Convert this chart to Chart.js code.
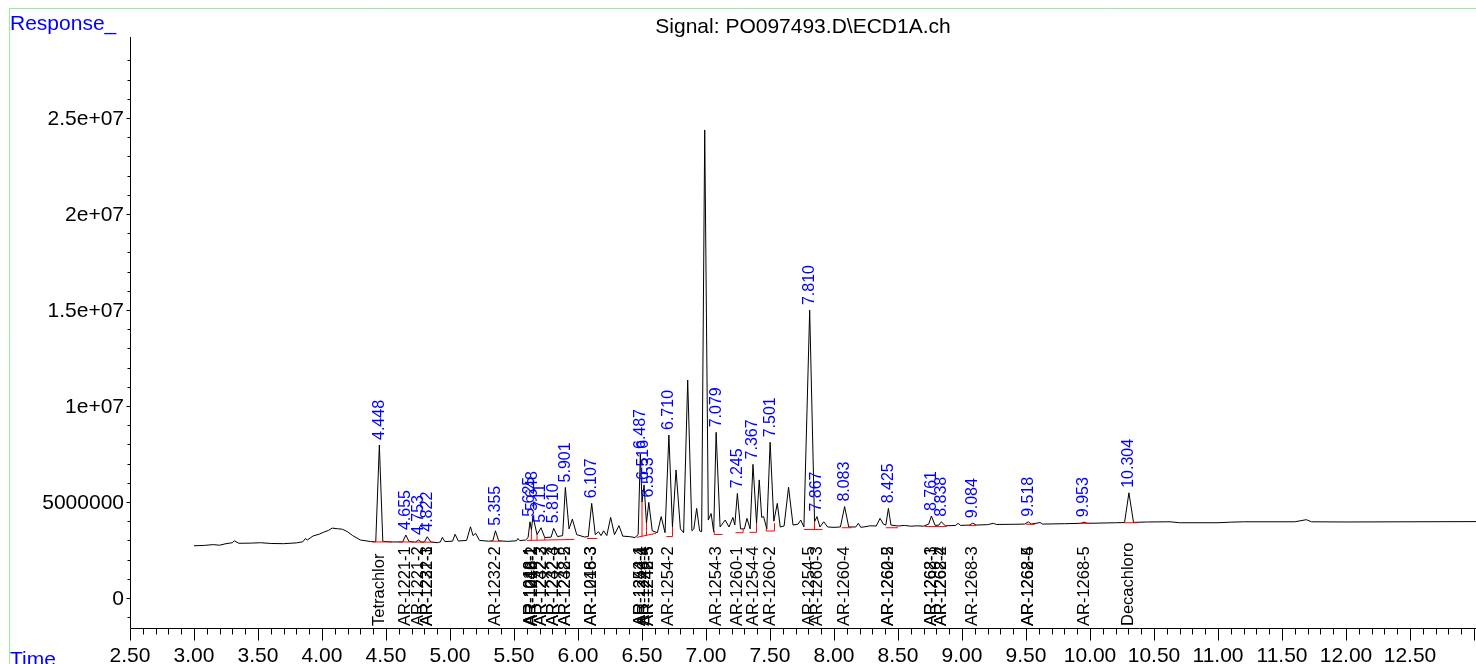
<!DOCTYPE html>
<html>
<head>
<meta charset="utf-8">
<script src="https://cdn.jsdelivr.net/npm/chart.js@4/dist/chart.umd.min.js"></script>
<style>
  html, body { margin: 0; padding: 0; background: #ffffff; }
  #wrap { width: 1476px; height: 664px; position: relative; }
</style>
</head>
<body>
<div id="wrap"><canvas id="c" width="1476" height="664"></canvas></div>
<script>
// ECD signal trace: retention time (min) and detector response
const traceTimes = [
  3.00, 3.08, 3.15, 3.20, 3.25, 3.30, 3.315, 3.35, 3.45, 3.52, 3.60, 3.70, 3.80, 3.85, 3.87, 3.885,
  3.93, 3.98, 4.01, 4.05, 4.08, 4.12, 4.16, 4.20, 4.24, 4.30, 4.38, 4.42, 4.448, 4.475, 4.55, 4.63,
  4.655, 4.68, 4.73, 4.753, 4.78, 4.80, 4.822, 4.85, 4.90, 4.925, 4.94, 4.96, 5.02, 5.04, 5.065, 5.13,
  5.16, 5.18, 5.20, 5.23, 5.30, 5.335, 5.355, 5.38, 5.45, 5.52, 5.53, 5.545, 5.59, 5.61, 5.625, 5.636,
  5.648, 5.68, 5.711, 5.74, 5.79, 5.810, 5.84, 5.88, 5.901, 5.93, 5.956, 5.99, 6.05, 6.08, 6.107, 6.135,
  6.16, 6.18, 6.20, 6.225, 6.255, 6.285, 6.32, 6.35, 6.40, 6.445, 6.47, 6.487, 6.50, 6.516, 6.535, 6.553,
  6.58, 6.62, 6.65, 6.68, 6.710, 6.738, 6.766, 6.80, 6.825, 6.857, 6.89, 6.905, 6.927, 6.95, 6.966, 6.99,
  7.018, 7.04, 7.06, 7.079, 7.11, 7.15, 7.18, 7.21, 7.225, 7.245, 7.27, 7.30, 7.32, 7.345, 7.367, 7.395,
  7.416, 7.435, 7.45, 7.475, 7.501, 7.53, 7.557, 7.58, 7.61, 7.645, 7.68, 7.72, 7.74, 7.765, 7.810, 7.848,
  7.867, 7.89, 7.92, 7.95, 8.00, 8.05, 8.083, 8.115, 8.17, 8.19, 8.21, 8.25, 8.28, 8.33, 8.36, 8.385,
  8.405, 8.425, 8.445, 8.50, 8.55, 8.60, 8.65, 8.70, 8.74, 8.761, 8.79, 8.82, 8.838, 8.87, 8.95, 8.97,
  8.99, 9.06, 9.084, 9.11, 9.20, 9.245, 9.27, 9.40, 9.49, 9.518, 9.54, 9.61, 9.63, 9.80, 9.93, 9.953,
  9.98, 10.20, 10.27, 10.304, 10.34, 10.45, 10.625, 10.70, 11.00, 11.10, 11.20, 11.60, 11.69, 11.73, 12.00, 12.50,
  13.02
];
const traceResponses = [
  2.72e6, 2.74e6, 2.78e6, 2.75e6, 2.83e6, 2.88e6, 2.98e6, 2.85e6, 2.86e6, 2.88e6, 2.84e6, 2.83e6, 2.87e6, 2.93e6, 3.10e6, 3.02e6,
  3.23e6, 3.33e6, 3.42e6, 3.52e6, 3.64e6, 3.61e6, 3.58e6, 3.45e6, 3.25e6, 3.02e6, 2.94e6, 2.93e6, 7.97e6, 2.95e6, 2.92e6, 2.92e6,
  3.28e6, 2.94e6, 2.91e6, 3.02e6, 2.91e6, 2.92e6, 3.19e6, 2.92e6, 2.88e6, 2.92e6, 3.16e6, 2.94e6, 2.96e6, 3.32e6, 2.97e6, 3.00e6,
  3.71e6, 3.25e6, 3.37e6, 3.00e6, 2.96e6, 2.98e6, 3.50e6, 2.98e6, 2.95e6, 2.98e6, 3.10e6, 2.99e6, 3.02e6, 3.15e6, 3.97e6, 3.55e6,
  4.27e6, 3.30e6, 3.66e6, 3.15e6, 3.17e6, 3.63e6, 3.20e6, 3.25e6, 5.76e6, 3.60e6, 4.11e6, 3.30e6, 3.18e6, 3.20e6, 4.93e6, 3.30e6,
  3.45e6, 3.25e6, 3.50e6, 3.25e6, 4.20e6, 3.30e6, 3.77e6, 3.22e6, 3.20e6, 3.15e6, 3.30e6, 7.50e6, 5.00e6, 5.89e6, 3.90e6, 4.98e6,
  3.50e6, 3.40e6, 4.24e6, 3.40e6, 8.49e6, 3.70e6, 6.67e6, 3.60e6, 3.40e6, 11.35e6, 3.50e6, 3.60e6, 4.67e6, 3.50e6, 3.45e6, 24.38e6,
  4.06e6, 4.40e6, 3.45e6, 8.63e6, 3.70e6, 4.06e6, 3.70e6, 4.20e6, 3.80e6, 5.45e6, 3.60e6, 3.60e6, 4.15e6, 3.60e6, 6.96e6, 3.90e6,
  6.15e6, 4.20e6, 4.24e6, 3.60e6, 8.11e6, 4.00e6, 4.93e6, 3.70e6, 3.75e6, 5.77e6, 3.80e6, 3.85e6, 4.06e6, 3.70e6, 15.00e6, 3.97e6,
  4.24e6, 3.70e6, 3.97e6, 3.70e6, 3.68e6, 3.70e6, 4.76e6, 3.70e6, 3.70e6, 3.89e6, 3.68e6, 3.72e6, 3.76e6, 3.75e6, 4.15e6, 3.85e6,
  3.80e6, 4.67e6, 3.80e6, 3.75e6, 3.78e6, 3.74e6, 3.76e6, 3.74e6, 3.85e6, 4.27e6, 3.78e6, 3.80e6, 3.97e6, 3.76e6, 3.78e6, 3.89e6,
  3.78e6, 3.80e6, 3.90e6, 3.80e6, 3.82e6, 3.89e6, 3.83e6, 3.84e6, 3.85e6, 3.97e6, 3.85e6, 3.93e6, 3.85e6, 3.87e6, 3.89e6, 3.95e6,
  3.89e6, 3.92e6, 3.93e6, 5.48e6, 3.94e6, 3.96e6, 3.97e6, 3.92e6, 3.92e6, 3.95e6, 3.97e6, 3.97e6, 4.08e6, 3.97e6, 3.96e6, 3.97e6,
  3.98e6
];

// Integrated peaks (retention times printed above the apex)
const peakTimeLabels = [
  '4.448', '4.655', '4.753', '4.822', '5.355', '5.625', '5.648', '5.711', '5.810', '5.901',
  '6.107', '6.487', '6.516', '6.553', '6.710', '7.079', '7.245', '7.367', '7.501', '7.810',
  '7.867', '8.083', '8.425', '8.761', '8.838', '9.084', '9.518', '9.953', '10.304'
];

// Compound identifications printed under the trace
const compoundNames = [
  'Tetrachlor', 'AR-1221-1', 'AR-1221-2', 'AR-1221-3', 'AR-1232-1', 'AR-1232-2',
  'AR-1016-1', 'AR-1242-1', 'AR-1248-1', 'AR-1016-2', 'AR-1232-3', 'AR-1242-2',
  'AR-1232-4', 'AR-1242-3', 'AR-1232-5', 'AR-1248-2', 'AR-1016-3', 'AR-1248-3',
  'AR-1254-1', 'AR-1242-4', 'AR-1248-4', 'AR-1242-5', 'AR-1248-5', 'AR-1254-2',
  'AR-1254-3', 'AR-1260-1', 'AR-1254-4', 'AR-1260-2', 'AR-1254-5', 'AR-1260-3',
  'AR-1260-4', 'AR-1260-5', 'AR-1262-2', 'AR-1268-1', 'AR-1262-3', 'AR-1268-2',
  'AR-1262-4', 'AR-1268-3', 'AR-1268-4', 'AR-1262-5', 'AR-1268-5', 'Decachloro'
];
const compoundTimes = [
  4.448, 4.655, 4.753, 4.822, 4.822, 5.355,
  5.625, 5.625, 5.648, 5.648, 5.711, 5.711,
  5.810, 5.810, 5.901, 5.901, 6.107, 6.107,
  6.487, 6.487, 6.516, 6.553, 6.553, 6.710,
  7.079, 7.245, 7.367, 7.501, 7.810, 7.867,
  8.083, 8.425, 8.425, 8.761, 8.761, 8.838,
  8.838, 9.084, 9.518, 9.518, 9.953, 10.304
];

// Integration baselines (start, end, level at start, level at end)
const baseStartTimes = [4.39, 4.60, 4.73, 5.32, 5.60, 6.07, 6.46, 6.69, 7.064, 7.23, 7.34, 7.47, 7.765, 8.06, 8.405, 8.71, 9.05, 9.50, 9.91, 10.27];
const baseEndTimes   = [4.55, 4.72, 4.87, 5.40, 5.97, 6.15, 6.61, 6.738, 7.13, 7.29, 7.395, 7.535, 7.91, 8.137, 8.50, 8.88, 9.11, 9.57, 10.0, 10.38];
const baseStartLevels = [2.92e6, 2.92e6, 2.91e6, 2.96e6, 3.00e6, 3.10e6, 3.16e6, 3.20e6, 3.31e6, 3.40e6, 3.42e6, 3.49e6, 3.57e6, 3.66e6, 3.66e6, 3.72e6, 3.77e6, 3.84e6, 3.89e6, 3.92e6];
const baseEndLevels   = [2.92e6, 2.92e6, 2.91e6, 2.96e6, 3.05e6, 3.10e6, 3.37e6, 3.20e6, 3.31e6, 3.40e6, 3.42e6, 3.49e6, 3.57e6, 3.66e6, 3.66e6, 3.72e6, 3.77e6, 3.84e6, 3.89e6, 3.92e6];

// Drop lines separating unresolved peaks
const dropTimes   = [5.636, 5.68, 5.74, 6.50, 6.535, 6.738, 7.064, 7.29, 7.395, 7.47, 7.535, 7.848];
const dropBottoms = [3.01e6, 3.01e6, 3.02e6, 3.21e6, 3.27e6, 3.20e6, 3.31e6, 3.40e6, 3.42e6, 3.49e6, 3.49e6, 3.57e6];
const dropTops    = [3.55e6, 3.30e6, 3.15e6, 5.00e6, 3.90e6, 3.70e6, 3.50e6, 3.60e6, 3.90e6, 3.60e6, 3.90e6, 3.97e6];

// Axis ticks
const xTickValues = [2.5, 3.0, 3.5, 4.0, 4.5, 5.0, 5.5, 6.0, 6.5, 7.0, 7.5, 8.0, 8.5, 9.0, 9.5, 10.0, 10.5, 11.0, 11.5, 12.0, 12.5];
const xTickLabels = ['2.50', '3.00', '3.50', '4.00', '4.50', '5.00', '5.50', '6.00', '6.50', '7.00', '7.50', '8.00', '8.50', '9.00', '9.50', '10.00', '10.50', '11.00', '11.50', '12.00', '12.50'];
const yTickValues = [0, 5e6, 1e7, 1.5e7, 2e7, 2.5e7];
const yTickLabels = ['0', '5000000', '1e+07', '1.5e+07', '2e+07', '2.5e+07'];

const titleText = 'Signal: PO097493.D\\ECD1A.ch';
const FONT = '"Liberation Sans", Arial, Helvetica, sans-serif';

// Build datasets
const tracePoints = traceTimes.map((t, i) => ({ x: t, y: traceResponses[i] }));
const redPoints = [];
baseStartTimes.forEach((t0, i) => {
  redPoints.push({ x: t0, y: baseStartLevels[i] });
  redPoints.push({ x: baseEndTimes[i], y: baseEndLevels[i] });
  redPoints.push({ x: baseEndTimes[i], y: null });
});
dropTimes.forEach((t, i) => {
  redPoints.push({ x: t, y: dropBottoms[i] });
  redPoints.push({ x: t, y: dropTops[i] });
  redPoints.push({ x: t, y: null });
});

const decorations = {
  id: 'decorations',
  afterDraw(chart) {
    const ctx = chart.ctx;
    const xs = chart.scales.x, ys = chart.scales.y;
    const area = chart.chartArea;
    ctx.save();

    // outer frame
    ctx.strokeStyle = '#94ee94';
    ctx.lineWidth = 1;
    ctx.beginPath();
    ctx.moveTo(9.5, 664);
    ctx.lineTo(9.5, 8.5);
    ctx.lineTo(1476, 8.5);
    ctx.stroke();

    // axes
    const ax = Math.round(xs.getPixelForValue(2.5)) + 0.5;
    const ay = Math.round(ys.getPixelForValue(ys.min)) + 0.5;
    ctx.strokeStyle = '#000';
    ctx.beginPath();
    ctx.moveTo(ax, 37);
    ctx.lineTo(ax, ay);
    ctx.lineTo(area.right, ay);
    ctx.stroke();

    // y ticks: minor every 1e6, labelled every 5e6
    ctx.beginPath();
    for (let v = -1e6; v <= 28e6; v += 1e6) {
      const py = Math.round(ys.getPixelForValue(v)) + 0.5;
      const major = yTickValues.includes(v);
      ctx.moveTo(ax - (major ? 4 : 3), py);
      ctx.lineTo(ax, py);
    }
    // x ticks: minor every 0.1 min, major every 0.5 min
    for (let k = 25; k <= 130; k++) {
      const t = k / 10;
      if (t > xs.max) break;
      const px = Math.round(xs.getPixelForValue(t)) + 0.5;
      const major = k % 5 === 0;
      ctx.moveTo(px, ay);
      ctx.lineTo(px, ay + (major ? 12 : 6));
    }
    ctx.stroke();

    ctx.fillStyle = '#000';
    ctx.font = '21px ' + FONT;
    ctx.textAlign = 'right';
    ctx.textBaseline = 'middle';
    yTickValues.forEach((v, i) => {
      ctx.fillText(yTickLabels[i], 124, ys.getPixelForValue(v) + 1);
    });
    ctx.textAlign = 'center';
    ctx.textBaseline = 'alphabetic';
    xTickValues.forEach((t, i) => {
      ctx.fillText(xTickLabels[i], xs.getPixelForValue(t), 662);
    });

    // title and axis captions
    ctx.textAlign = 'center';
    ctx.fillText(titleText, (area.left + area.right) / 2, 33);
    ctx.fillStyle = '#0000ff';
    ctx.textAlign = 'left';
    ctx.fillText('Response_', 10, 29.5);
    ctx.fillText('Time', 10, 666);

    // retention-time labels above each integrated peak
    ctx.font = '16px ' + FONT;
    ctx.fillStyle = '#0000ff';
    ctx.textAlign = 'left';
    ctx.textBaseline = 'middle';
    peakTimeLabels.forEach(lbl => {
      const t = parseFloat(lbl);
      const idx = traceTimes.indexOf(t);
      const px = xs.getPixelForValue(t);
      const py = ys.getPixelForValue(traceResponses[idx]);
      ctx.save();
      ctx.translate(px, py - 5);
      ctx.rotate(-Math.PI / 2);
      ctx.fillText(lbl, 0, 0);
      ctx.restore();
    });

    // compound names under the trace
    ctx.font = '16.5px ' + FONT;
    ctx.fillStyle = '#000';
    compoundNames.forEach((name, i) => {
      const px = xs.getPixelForValue(compoundTimes[i]);
      ctx.save();
      ctx.translate(px, 626);
      ctx.rotate(-Math.PI / 2);
      ctx.fillText(name, 0, 0);
      ctx.restore();
    });

    ctx.restore();
  }
};

new Chart(document.getElementById('c').getContext('2d'), {
  type: 'scatter',
  data: {
    datasets: [
      {
        data: redPoints, showLine: true, spanGaps: false,
        borderColor: '#ff0000', borderWidth: 1, pointRadius: 0, order: 0
      },
      {
        data: tracePoints, showLine: true,
        borderColor: '#000000', borderWidth: 1, pointRadius: 0, tension: 0, order: 1
      }
    ]
  },
  options: {
    responsive: false,
    animation: false,
    devicePixelRatio: 1,
    layout: { padding: { left: 130, right: 0, top: 38, bottom: 36 } },
    plugins: { legend: { display: false }, tooltip: { enabled: false } },
    scales: {
      x: { type: 'linear', min: 2.5, max: 13.0156, display: false },
      y: { type: 'linear', min: -1.5625e6, max: 29.17e6, display: false }
    }
  },
  plugins: [decorations]
});
</script>
</body>
</html>
